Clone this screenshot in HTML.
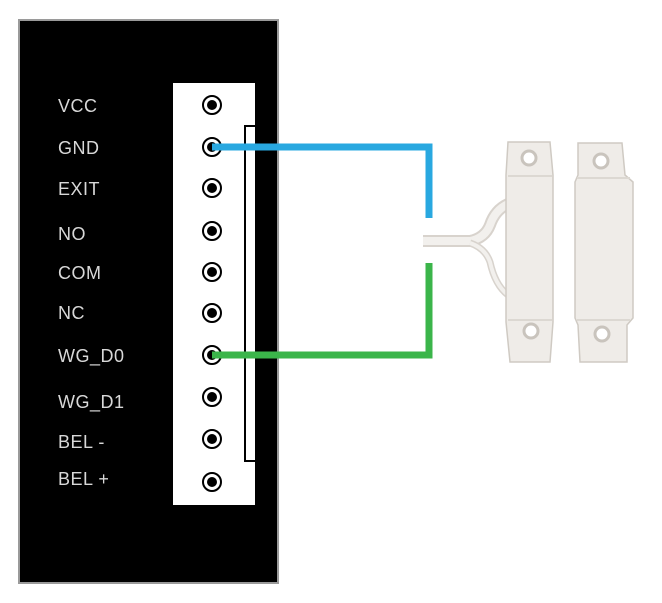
<!DOCTYPE html>
<html><head><meta charset="utf-8"><style>
html,body{margin:0;padding:0;background:#fff;}
svg{display:block;}
text{font-family:"Liberation Sans",sans-serif;font-size:18px;fill:#d8d8d8;letter-spacing:0.5px;}
</style></head><body>
<svg width="662" height="603" viewBox="0 0 662 603">
<rect x="19" y="20" width="259" height="563" fill="#000" stroke="#9a9a9a" stroke-width="2"/>
<rect x="173" y="83" width="82" height="422" fill="#fff"/>
<polyline points="255,126 245,126 245,461 255,461" fill="none" stroke="#000" stroke-width="2"/>
<g>
<text x="58" y="112">VCC</text>
<text x="58" y="154">GND</text>
<text x="58" y="195">EXIT</text>
<text x="58" y="240">NO</text>
<text x="58" y="279">COM</text>
<text x="58" y="319">NC</text>
<text x="58" y="362">WG_D0</text>
<text x="58" y="408">WG_D1</text>
<text x="58" y="448">BEL -</text>
<text x="58" y="485">BEL +</text>
</g>
<g stroke="#000" stroke-width="2" fill="#fff">
<circle cx="212" cy="105" r="9"/><circle cx="212" cy="147" r="9"/><circle cx="212" cy="188" r="9"/>
<circle cx="212" cy="231" r="9"/><circle cx="212" cy="272" r="9"/><circle cx="212" cy="313" r="9"/>
<circle cx="212" cy="355" r="9"/><circle cx="212" cy="397" r="9"/><circle cx="212" cy="439" r="9"/>
<circle cx="212" cy="482" r="9"/>
</g>
<g fill="#000">
<circle cx="212" cy="105" r="5"/><circle cx="212" cy="147" r="5"/><circle cx="212" cy="188" r="5"/>
<circle cx="212" cy="231" r="5"/><circle cx="212" cy="272" r="5"/><circle cx="212" cy="313" r="5"/>
<circle cx="212" cy="355" r="5"/><circle cx="212" cy="397" r="5"/><circle cx="212" cy="439" r="5"/>
<circle cx="212" cy="482" r="5"/>
</g>
<polyline points="212,147 429,147 429,218" fill="none" stroke="#29a8e0" stroke-width="7"/>
<polyline points="212,355 429,355 429,263" fill="none" stroke="#3bb54a" stroke-width="7"/>
<!-- wire -->
<path d="M423,241 L470,241 Q485,238 490,225 Q495,210 508,204" fill="none" stroke="#d8d3cd" stroke-width="12"/>
<path d="M423,241 L470,241 Q485,238 490,225 Q495,210 508,204" fill="none" stroke="#f2f0ed" stroke-width="8"/>
<path d="M470,243 Q485,248 490,262 Q495,285 508,295" fill="none" stroke="#d8d3cd" stroke-width="7"/>
<path d="M470,243 Q485,248 490,262 Q495,285 508,295" fill="none" stroke="#f2f0ed" stroke-width="4"/>
<!-- left piece -->
<path d="M508,142 L550,142 L553,175 L553,322 L550,362 L510,362 L506,322 L506,175 Z" fill="#efece8" stroke="#cfcac3" stroke-width="1.5"/>
<line x1="508" y1="176" x2="552" y2="176" stroke="#dcd8d2" stroke-width="2"/>
<line x1="508" y1="320" x2="552" y2="320" stroke="#dcd8d2" stroke-width="2"/>
<circle cx="529" cy="158" r="7" fill="#fff" stroke="#c9c4bd" stroke-width="3"/>
<circle cx="531" cy="331" r="7" fill="#fff" stroke="#c9c4bd" stroke-width="3"/>
<!-- right piece -->
<path d="M578,143 L622,143 L625,175 L633,182 L633,318 L627,325 L627,362 L580,362 L578,325 L575,318 L575,182 L578,175 Z" fill="#efece8" stroke="#cfcac3" stroke-width="1.5"/>
<line x1="577" y1="178" x2="630" y2="178" stroke="#dcd8d2" stroke-width="2"/>
<line x1="577" y1="320" x2="630" y2="320" stroke="#dcd8d2" stroke-width="2"/>
<circle cx="601" cy="161" r="7" fill="#fff" stroke="#c9c4bd" stroke-width="3"/>
<circle cx="602" cy="334" r="7" fill="#fff" stroke="#c9c4bd" stroke-width="3"/>
</svg>
</body></html>
